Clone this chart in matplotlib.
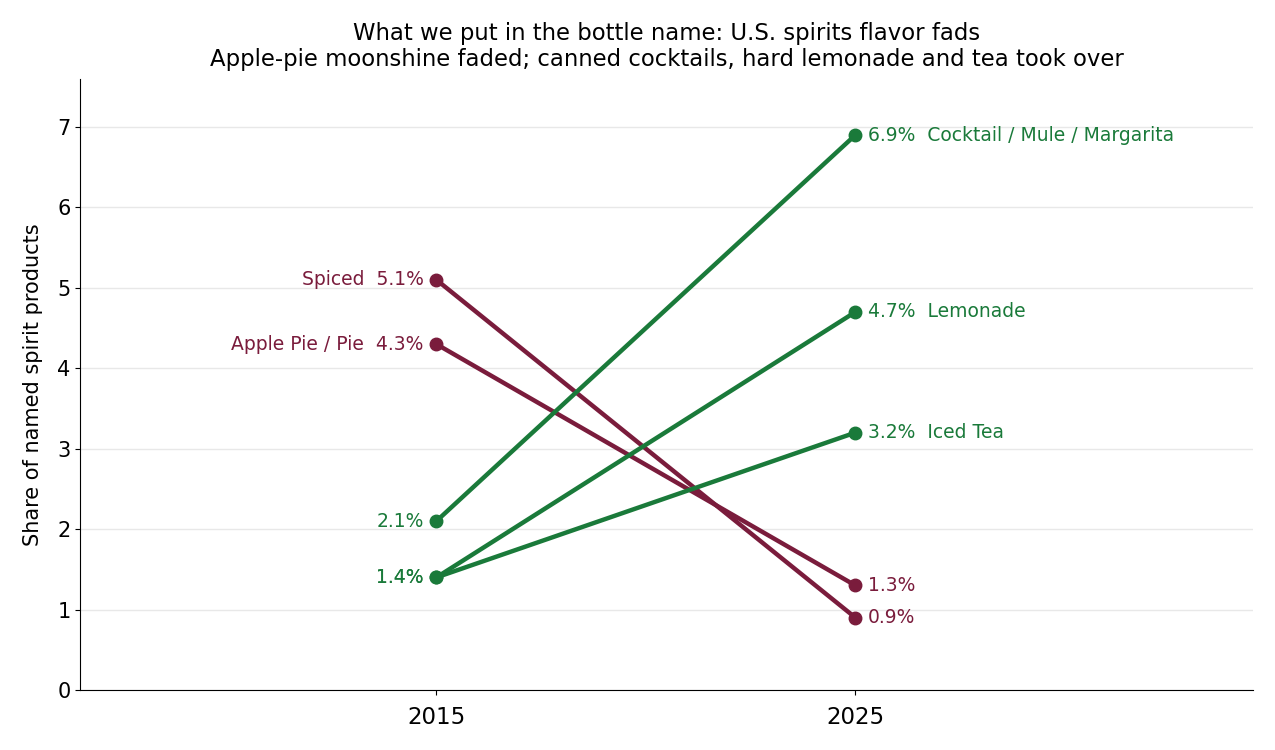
import matplotlib
matplotlib.use('Agg')
import matplotlib.pyplot as plt

years = ['2015', '2025']
names = ['Spiced', 'Apple Pie / Pie', 'Cocktail / Mule / Margarita', 'Lemonade', 'Iced Tea']
start = [5.1, 4.3, 2.1, 1.4, 1.4]
end = [0.9, 1.3, 6.9, 4.7, 3.2]
rising = [False, False, True, True, True]

MAROON = '#7a1c3c'
GREEN = '#1a7a3a'

fig = plt.figure(figsize=(12.75, 7.5), dpi=100)
ax = fig.add_axes([0.063, 0.08, 0.92, 0.815])

for name, a, b, up in zip(names, start, end, rising):
    c = GREEN if up else MAROON
    ax.plot([0, 1], [a, b], color=c, lw=3.2, marker='o', markersize=9, zorder=3)
    if up:
        ax.text(-0.03, a, f'{a:.1f}%', color=c, fontsize=13.5, ha='right', va='center')
        ax.text(1.03, b, f'{b:.1f}%  {name}', color=c, fontsize=13.5, ha='left', va='center')
    else:
        ax.text(-0.03, a, f'{name}  {a:.1f}%', color=c, fontsize=13.5, ha='right', va='center')
        ax.text(1.03, b, f'{b:.1f}%', color=c, fontsize=13.5, ha='left', va='center')

ax.set_xticks([0, 1])
ax.set_xticklabels(years, fontsize=16.5)
ax.tick_params(axis='x', pad=8)
ax.set_xlim(-0.85, 1.95)
ax.set_ylim(0, 7.6)
ax.set_yticks(range(0, 8))
ax.tick_params(axis='y', labelsize=15)
ax.grid(axis='y', color='#e8e8e8', lw=1)
ax.set_axisbelow(True)
ax.spines['top'].set_visible(False)
ax.spines['right'].set_visible(False)
ax.set_ylabel('Share of named spirit products', fontsize=15, labelpad=10)
ax.set_title('What we put in the bottle name: U.S. spirits flavor fads\n'
             'Apple-pie moonshine faded; canned cocktails, hard lemonade and tea took over',
             fontsize=16.4, pad=9)

fig.savefig('out.png', dpi=100)
